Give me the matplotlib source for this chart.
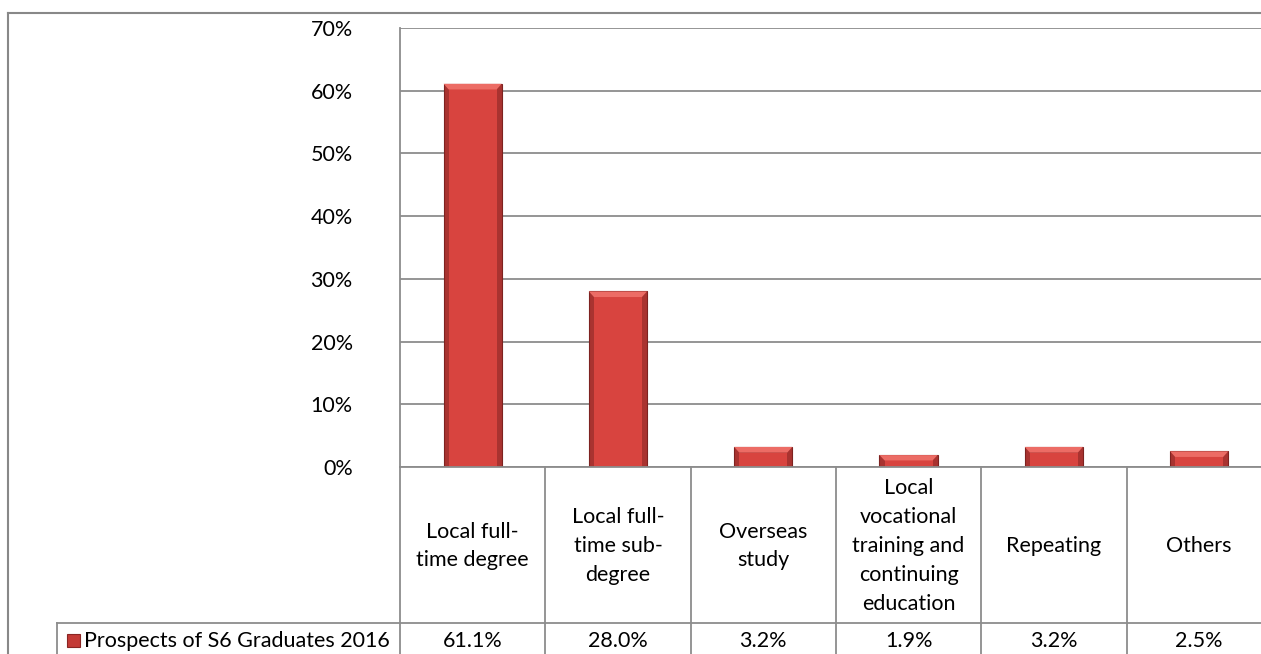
import matplotlib.pyplot as plt
from matplotlib.transforms import Affine2D, blended_transform_factory
from matplotlib.ticker import FuncFormatter, MultipleLocator

plt.rcParams['font.family'] = ['Lato', 'DejaVu Sans']

# data
categories = ["Local full-\ntime degree", "Local full-\ntime sub-\ndegree", "Overseas\nstudy",
              "Local\nvocational\ntraining and\ncontinuing\neducation", "Repeating", "Others"]
values = [61.1, 28.0, 3.2, 1.9, 3.2, 2.5]
value_labels = ["61.1%", "28.0%", "3.2%", "1.9%", "3.2%", "2.5%"]
series_name = "Prospects of S6 Graduates 2016"
y_max = 70

W, H = 1261, 654
FS = 15.5
fig = plt.figure(figsize=(W / 100, H / 100), dpi=100)
# pixel coordinates, y going down from the top
px = Affine2D().scale(1 / W, -1 / H).translate(0, 1) + fig.transFigure

grid_col = '#8c8c8c'
ax_left, ax_top, ax_bot = 400, 28, 467
ax_w = 6 * 145.3
ax = fig.add_axes([ax_left / W, 1 - ax_bot / H, ax_w / W, (ax_bot - ax_top) / H])

x = list(range(len(values)))
# bars with a simple bevel look
ax.bar(x, values, width=0.4, color='#a93330', edgecolor='#7e2220', linewidth=0.8, zorder=3)
inner = [max(v - 0.9, v * 0.55) for v in values]
ax.bar(x, inner, width=0.33, color='#d8443f', linewidth=0, zorder=4)
for xi, v, iv in zip(x, values, inner):
    ax.fill([xi - 0.2, xi + 0.2, xi + 0.165, xi - 0.165], [v, v, iv, iv],
            color='#ec6c65', lw=0, zorder=5)

ax.set_xlim(-0.5, len(values) - 0.5)
ax.set_ylim(0, y_max)
ax.yaxis.set_major_locator(MultipleLocator(10))
ax.yaxis.set_major_formatter(FuncFormatter(lambda v, p: f"{v:.0f}%"))
ax.grid(axis='y', color=grid_col, linewidth=1.3, zorder=0)
ax.set_xticks([])
ax.tick_params(axis='y', length=0, pad=34, labelsize=FS)
for s in ['top', 'right', 'bottom']:
    ax.spines[s].set_visible(False)
ax.spines['left'].set_color(grid_col)
ax.spines['left'].set_linewidth(1.3)

# data table under the plot
row_y = 623
colx = blended_transform_factory(ax.transData, px)
for i in range(len(values) + 1):
    ax.plot([i - 0.5, i - 0.5], [ax_bot, H + 5], transform=colx, color=grid_col,
            lw=1.3, clip_on=False)
fig.add_artist(plt.Line2D([ax_left, W + 5], [ax_bot, ax_bot], transform=px, color=grid_col, lw=1.3))
fig.add_artist(plt.Line2D([57, W + 5], [row_y, row_y], transform=px, color=grid_col, lw=1.3))
fig.add_artist(plt.Line2D([57, 57], [row_y, H + 5], transform=px, color=grid_col, lw=1.3))

for i, (c, lab) in enumerate(zip(categories, value_labels)):
    ax.text(i, (ax_bot + row_y) / 2 + 1, c, transform=colx, ha='center', va='center',
            fontsize=FS, linespacing=1.55)
    ax.text(i, 641, lab, transform=colx, ha='center', va='center', fontsize=FS)

# legend key in the table
fig.add_artist(plt.Rectangle((67, 634), 13, 13, transform=px, facecolor='#c33a36',
                             edgecolor='#8a2523', lw=0.8))
fig.text(84, 641, series_name, transform=px, ha='left', va='center', fontsize=FS)

# chart area border
fig.add_artist(plt.Line2D([8, W + 5], [13, 13], transform=px, color='#888888', lw=1.5))
fig.add_artist(plt.Line2D([8, 8], [13, H + 5], transform=px, color='#888888', lw=1.5))

fig.savefig('out.png', dpi=100)
